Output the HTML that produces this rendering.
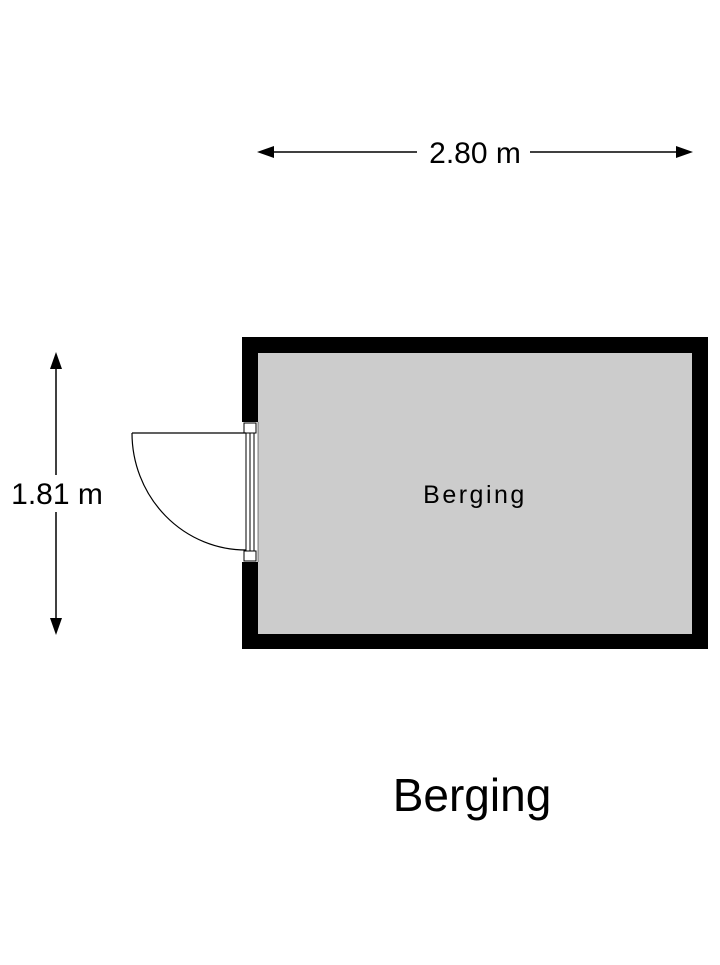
<!DOCTYPE html>
<html><head><style>html,body{margin:0;padding:0;background:#fff}</style></head>
<body>
<svg width="720" height="960" viewBox="0 0 720 960" xmlns="http://www.w3.org/2000/svg" font-family="Liberation Sans, Arial, sans-serif">
<rect width="720" height="960" fill="#fff"/>
<!-- top dimension -->
<line x1="270" y1="152" x2="417" y2="152" stroke="#000" stroke-width="1.5"/>
<line x1="530" y1="152" x2="680" y2="152" stroke="#000" stroke-width="1.5"/>
<polygon points="257,152 274,146 274,158" fill="#000"/>
<polygon points="693,152 676,146 676,158" fill="#000"/>
<text x="475" y="163" font-size="30" text-anchor="middle">2.80 m</text>
<!-- left dimension -->
<line x1="56" y1="365" x2="56" y2="475" stroke="#000" stroke-width="1.5"/>
<line x1="56" y1="512" x2="56" y2="622" stroke="#000" stroke-width="1.5"/>
<polygon points="56,352 50,369 62,369" fill="#000"/>
<polygon points="56,635 50,618 62,618" fill="#000"/>
<text x="57" y="504" font-size="30" text-anchor="middle">1.81 m</text>
<!-- room -->
<rect x="242" y="337" width="466" height="312" fill="#000"/>
<rect x="258" y="353" width="434" height="281" fill="#cccccc"/>
<!-- door opening -->
<rect x="242" y="422" width="16" height="140" fill="#fff"/>
<rect x="244" y="423" width="12" height="10" fill="#fff" stroke="#000" stroke-width="1"/>
<rect x="244" y="551" width="12" height="10" fill="#fff" stroke="#000" stroke-width="1"/>
<line x1="246" y1="433" x2="246" y2="551" stroke="#000" stroke-width="1"/>
<line x1="250" y1="433" x2="250" y2="551" stroke="#000" stroke-width="1"/>
<line x1="254" y1="433" x2="254" y2="551" stroke="#000" stroke-width="1"/>
<line x1="258" y1="422" x2="258" y2="562" stroke="#000" stroke-width="0.5"/>
<line x1="132" y1="433" x2="246" y2="433" stroke="#000" stroke-width="1.2"/>
<path d="M132,433 A114,117 0 0 0 246,550" fill="none" stroke="#000" stroke-width="1.2"/>
<!-- labels -->
<text x="475" y="503" font-size="25" text-anchor="middle" letter-spacing="2.5">Berging</text>
<text x="472" y="811" font-size="46" text-anchor="middle">Berging</text>
</svg>
</body></html>
